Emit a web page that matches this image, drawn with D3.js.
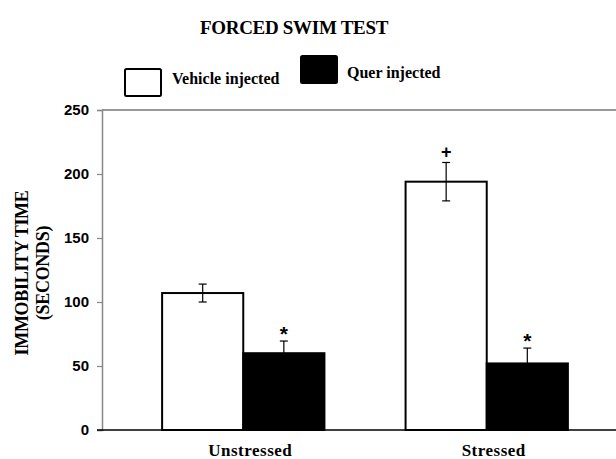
<!DOCTYPE html>
<html>
<head>
<meta charset="utf-8">
<script src="https://cdn.jsdelivr.net/npm/d3@7"></script>
<style>
  body { margin: 0; background: #fff; }
  svg { display: block; }
</style>
</head>
<body>
<div id="chart"></div>
<script>
var categories = ["Unstressed", "Stressed"];
var series = ["Vehicle injected", "Quer injected"];
var vehicleValues = [107, 194];
var vehicleErrors = [7, 15];
var querValues = [60, 52];
var querErrors = [9.5, 12];
var marks = [["", "*"], ["+", "*"]];
var yTicks = [0, 50, 100, 150, 200, 250];

var width = 616, height = 459;
var plotLeft = 102, plotTop = 110, plotBottom = 430;

var svg = d3.select("#chart").append("svg")
  .attr("width", width)
  .attr("height", height);

var y = d3.scaleLinear().domain([0, 250]).range([plotBottom, plotTop]);

var x = d3.scaleBand()
  .domain(categories)
  .range([plotLeft, 628])
  .paddingInner(1 / 3)
  .paddingOuter(60 / 243);

var xs = d3.scaleBand()
  .domain(series)
  .range([0, x.bandwidth()]);

var rows = categories.map((c, i) => ({
  cat: c,
  bars: [
    {s: series[0], v: vehicleValues[i], e: vehicleErrors[i], mark: marks[i][0], fill: "#fff", cap: 2},
    {s: series[1], v: querValues[i], e: querErrors[i], mark: marks[i][1], fill: "#000", cap: 1}
  ]
}));

// top frame line
svg.append("line")
  .attr("x1", plotLeft).attr("x2", width)
  .attr("y1", plotTop).attr("y2", plotTop)
  .attr("stroke", "#777").attr("stroke-width", 1.5);

// y axis
var yAxis = svg.append("g")
  .attr("transform", `translate(${plotLeft},0)`)
  .call(d3.axisLeft(y).tickValues(yTicks).tickSize(5).tickPadding(8));
yAxis.select(".domain").attr("stroke", "#888").attr("stroke-width", 1.5);
yAxis.selectAll(".tick line").attr("stroke", "#888").attr("stroke-width", 1.2);
yAxis.selectAll(".tick text")
  .attr("font-family", "Liberation Sans, Arial, sans-serif")
  .attr("font-weight", "bold")
  .attr("font-size", 15)
  .attr("fill", "#000");

// bars
var group = svg.selectAll(".grp")
  .data(rows)
  .enter()
  .append("g")
  .attr("class", "grp")
  .attr("transform", d => `translate(${x(d.cat)},0)`);

var bar = group.selectAll(".bar")
  .data(d => d.bars)
  .enter()
  .append("g")
  .attr("class", "bar");

bar.append("rect")
  .attr("x", d => xs(d.s))
  .attr("y", d => y(d.v))
  .attr("width", xs.bandwidth())
  .attr("height", d => plotBottom - y(d.v))
  .attr("fill", d => d.fill)
  .attr("stroke", "#000")
  .attr("stroke-width", 2);

// error bars
bar.append("line")
  .attr("x1", d => xs(d.s) + xs.bandwidth() / 2)
  .attr("x2", d => xs(d.s) + xs.bandwidth() / 2)
  .attr("y1", d => y(d.v + d.e))
  .attr("y2", d => d.cap == 2 ? y(d.v - d.e) : y(d.v))
  .attr("stroke", "#000").attr("stroke-width", 1.2);
bar.append("line")
  .attr("x1", d => xs(d.s) + xs.bandwidth() / 2 - 4)
  .attr("x2", d => xs(d.s) + xs.bandwidth() / 2 + 4)
  .attr("y1", d => y(d.v + d.e))
  .attr("y2", d => y(d.v + d.e))
  .attr("stroke", "#000").attr("stroke-width", 1.2);
bar.filter(d => d.cap == 2).append("line")
  .attr("x1", d => xs(d.s) + xs.bandwidth() / 2 - 4)
  .attr("x2", d => xs(d.s) + xs.bandwidth() / 2 + 4)
  .attr("y1", d => y(d.v - d.e))
  .attr("y2", d => y(d.v - d.e))
  .attr("stroke", "#000").attr("stroke-width", 1.2);

// significance marks
bar.append("text")
  .attr("x", d => xs(d.s) + xs.bandwidth() / 2)
  .attr("y", d => y(d.v + d.e) - (d.mark == "+" ? 11 : 15))
  .attr("text-anchor", "middle")
  .attr("font-family", "Liberation Sans, Arial, sans-serif")
  .attr("font-weight", "bold")
  .attr("font-size", d => d.mark == "+" ? 18 : 21)
  .attr("dy", d => d.mark == "+" ? "0.35em" : "0.7em")
  .text(d => d.mark);

// baseline
svg.append("line")
  .attr("x1", plotLeft - 5).attr("x2", width)
  .attr("y1", plotBottom).attr("y2", plotBottom)
  .attr("stroke", "#000").attr("stroke-width", 1.5);

// category labels
svg.selectAll(".cat")
  .data(categories)
  .enter()
  .append("text")
  .attr("x", d => x(d) + x.bandwidth() / 2 + 7)
  .attr("y", 456)
  .attr("text-anchor", "middle")
  .attr("font-family", "Liberation Serif, Times New Roman, serif")
  .attr("font-weight", "bold")
  .attr("font-size", 17)
  .attr("letter-spacing", 0.5)
  .text(d => d);

// title
svg.append("text")
  .attr("x", 294).attr("y", 34)
  .attr("text-anchor", "middle")
  .attr("font-family", "Liberation Serif, Times New Roman, serif")
  .attr("font-weight", "bold")
  .attr("font-size", 19)
  .attr("letter-spacing", -0.3)
  .text("FORCED SWIM TEST");

// y title
var yt = svg.append("text")
  .attr("transform", "translate(28,273) rotate(-90)")
  .attr("text-anchor", "middle")
  .attr("font-family", "Liberation Serif, Times New Roman, serif")
  .attr("font-weight", "bold")
  .attr("font-size", 18)
  .attr("letter-spacing", -0.3);
yt.append("tspan").attr("x", 0).attr("dy", 0).text("IMMOBILITY TIME");
yt.append("tspan").attr("x", 0).attr("dy", 21).text("(SECONDS)");

// legend
var legend = [
  {s: series[0], fill: "#fff", x: 125, y: 69, tx: 172, ty: 84},
  {s: series[1], fill: "#000", x: 301, y: 56, tx: 347, ty: 78}
];
var lg = svg.selectAll(".lg")
  .data(legend)
  .enter()
  .append("g");
lg.append("rect")
  .attr("x", d => d.x).attr("y", d => d.y)
  .attr("width", 36).attr("height", 27)
  .attr("rx", 1.5)
  .attr("fill", d => d.fill)
  .attr("stroke", "#000").attr("stroke-width", 2);
lg.append("text")
  .attr("x", d => d.tx).attr("y", d => d.ty)
  .attr("font-family", "Liberation Serif, Times New Roman, serif")
  .attr("font-weight", "bold")
  .attr("font-size", 16)
  .text(d => d.s);
</script>
</body>
</html>
